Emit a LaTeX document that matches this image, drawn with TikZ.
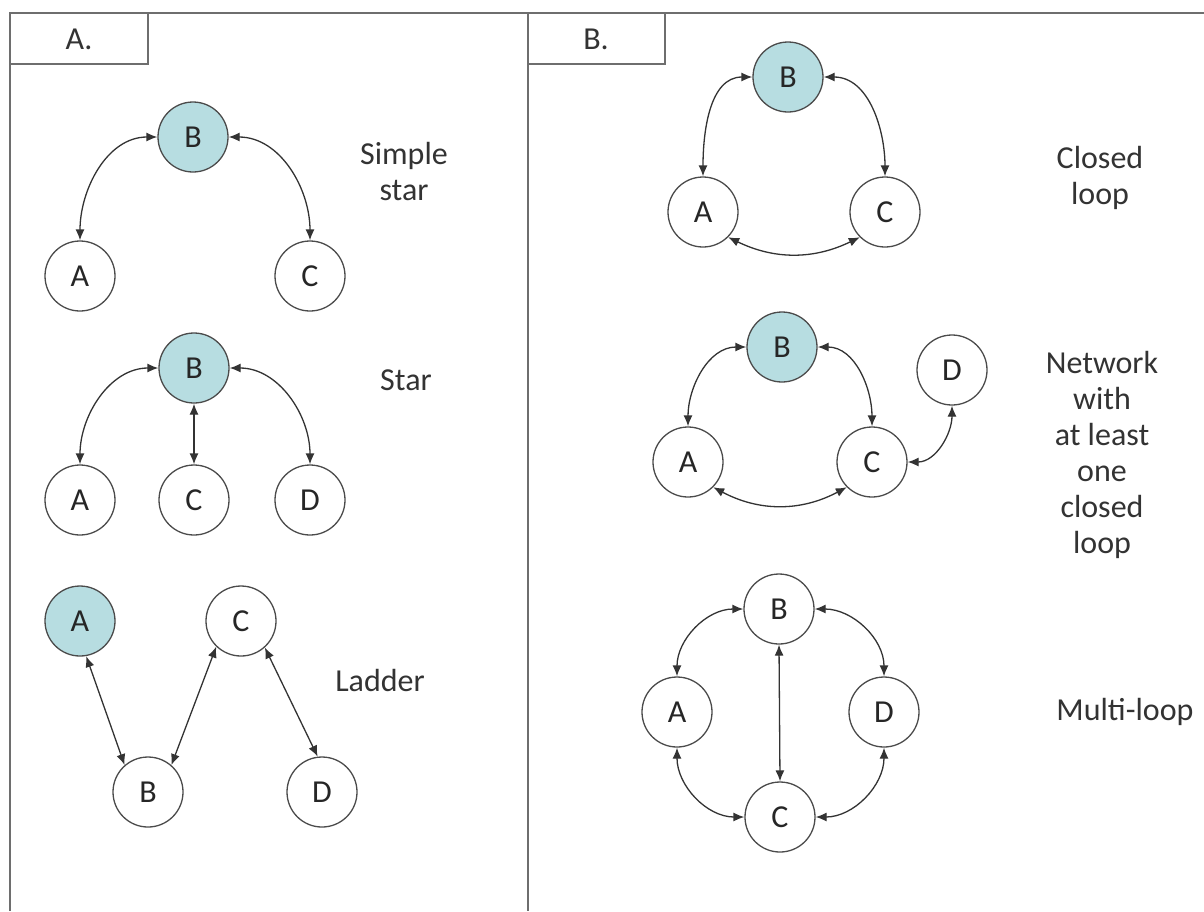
\documentclass[tikz,border=0pt]{standalone}
\usepackage{fontspec}
\setmainfont{Carlito}
\usetikzlibrary{arrows.meta}
\definecolor{tealfill}{RGB}{183,221,225}
\definecolor{framegray}{RGB}{110,110,110}
\definecolor{ringgray}{RGB}{75,75,75}
\tikzset{
  vert/.style={circle,draw=ringgray,line width=0.65pt,minimum size=35pt,inner sep=0pt,
    font=\fontsize{16}{18}\selectfont,text=black!85},
  hub/.style={vert,fill=tealfill},
  link/.style={line width=0.65pt,draw=black!80,{Latex[length=5.5pt,width=4.5pt]}-{Latex[length=5.5pt,width=4.5pt]}},
  frame/.style={draw=framegray,line width=1pt},
  caption/.style={align=center,inner sep=0pt,font=\fontsize{16}{18}\selectfont,text=black!80},
  panellabel/.style={inner sep=0pt,font=\fontsize{16}{18}\selectfont,text=black!80}
}
\begin{document}
\begin{tikzpicture}[x=0.5pt,y=-0.5pt]
\useasboundingbox (0,0) rectangle (1204,911);
% frame
\coordinate (tl) at (10,13);
\coordinate (tr) at (1204,13);
\coordinate (bl) at (10,911);
\coordinate (mt) at (528,13);
\coordinate (mb) at (528,911);
\draw[frame] (bl) -- (tl) -- (tr);
\draw[frame] (mt) -- (mb);
\draw[frame] (148,13) -- (148,64) -- (10,64);
\draw[frame] (665,13) -- (665,64) -- (528,64);
\node[panellabel] (la) at (79,39) {A.};
\node[panellabel] (lb) at (596,39) {B.};

% ---- Simple star
\node[hub]  (s1b) at (193,137) {B};
\node[vert] (s1a) at (80,276) {A};
\node[vert] (s1c) at (310,276) {C};
\draw[link] (s1b.west) to[out=180,in=90] (s1a.north);
\draw[link] (s1b.east) to[out=0,in=90] (s1c.north);
\node[caption] (t1) at (404,172) {Simple\\star};

% ---- Star
\node[hub]  (s2b) at (194,368) {B};
\node[vert] (s2a) at (80,500) {A};
\node[vert] (s2c) at (194,500) {C};
\node[vert] (s2d) at (310,500) {D};
\draw[link] (s2b.west) to[out=180,in=90] (s2a.north);
\draw[link] (s2b.south) -- (s2c.north);
\draw[link] (s2b.east) to[out=0,in=90] (s2d.north);
\node[caption] (t2) at (406,380) {Star};

% ---- Ladder
\node[hub]  (lda) at (80,621) {A};
\node[vert] (ldc) at (241,621) {C};
\node[vert] (ldb) at (148,792) {B};
\node[vert] (ldd) at (322,792) {D};
\draw[link] (lda.-80) -- (ldb.131);
\draw[link] (ldc.226) -- (ldb.49);
\draw[link] (ldc.-48) -- (ldd.97);
\node[caption] (t3) at (380,680) {Ladder};

% ---- Closed loop
\node[hub]  (clb) at (788,77) {B};
\node[vert] (cla) at (703,212) {A};
\node[vert] (clc) at (885,212) {C};
\draw[link] (clb.west) to[out=180,in=90] (cla.north);
\draw[link] (clb.east) to[out=0,in=90] (clc.north);
\draw[link] (cla.-45) to[bend right=26] (clc.-135);
\node[caption] (t4) at (1100,178) {Closed\\loop};

% ---- Network with at least one closed loop
\node[hub]  (nwb) at (782,347) {B};
\node[vert] (nwa) at (688,462) {A};
\node[vert] (nwc) at (872,462) {C};
\node[vert] (nwd) at (952,370) {D};
\draw[link] (nwb.west) to[out=180,in=90] (nwa.north);
\draw[link] (nwb.east) to[out=0,in=90] (nwc.north);
\draw[link] (nwa.-45) to[bend right=28] (nwc.-135);
\draw[link] (nwc.east) to[out=0,in=-90] (nwd.south);
\node[caption] (t5) at (1102,455) {Network\\with\\at least\\one\\closed\\loop};

% ---- Multi-loop
\node[vert] (mlb) at (779,609) {B};
\node[vert] (mla) at (677,712) {A};
\node[vert] (mld) at (884,712) {D};
\node[vert] (mlc) at (780,817) {C};
\draw[link] (mlb.west) to[out=180,in=90] (mla.north);
\draw[link] (mlb.east) to[out=0,in=90] (mld.north);
\draw[link] (mla.south) to[out=-90,in=180] (mlc.west);
\draw[link] (mld.south) to[out=-90,in=0] (mlc.east);
\draw[link] (mlb.south) -- (mlc.north);
\node[caption] (t6) at (1125,712) {Multi-loop};
\end{tikzpicture}
\end{document}
